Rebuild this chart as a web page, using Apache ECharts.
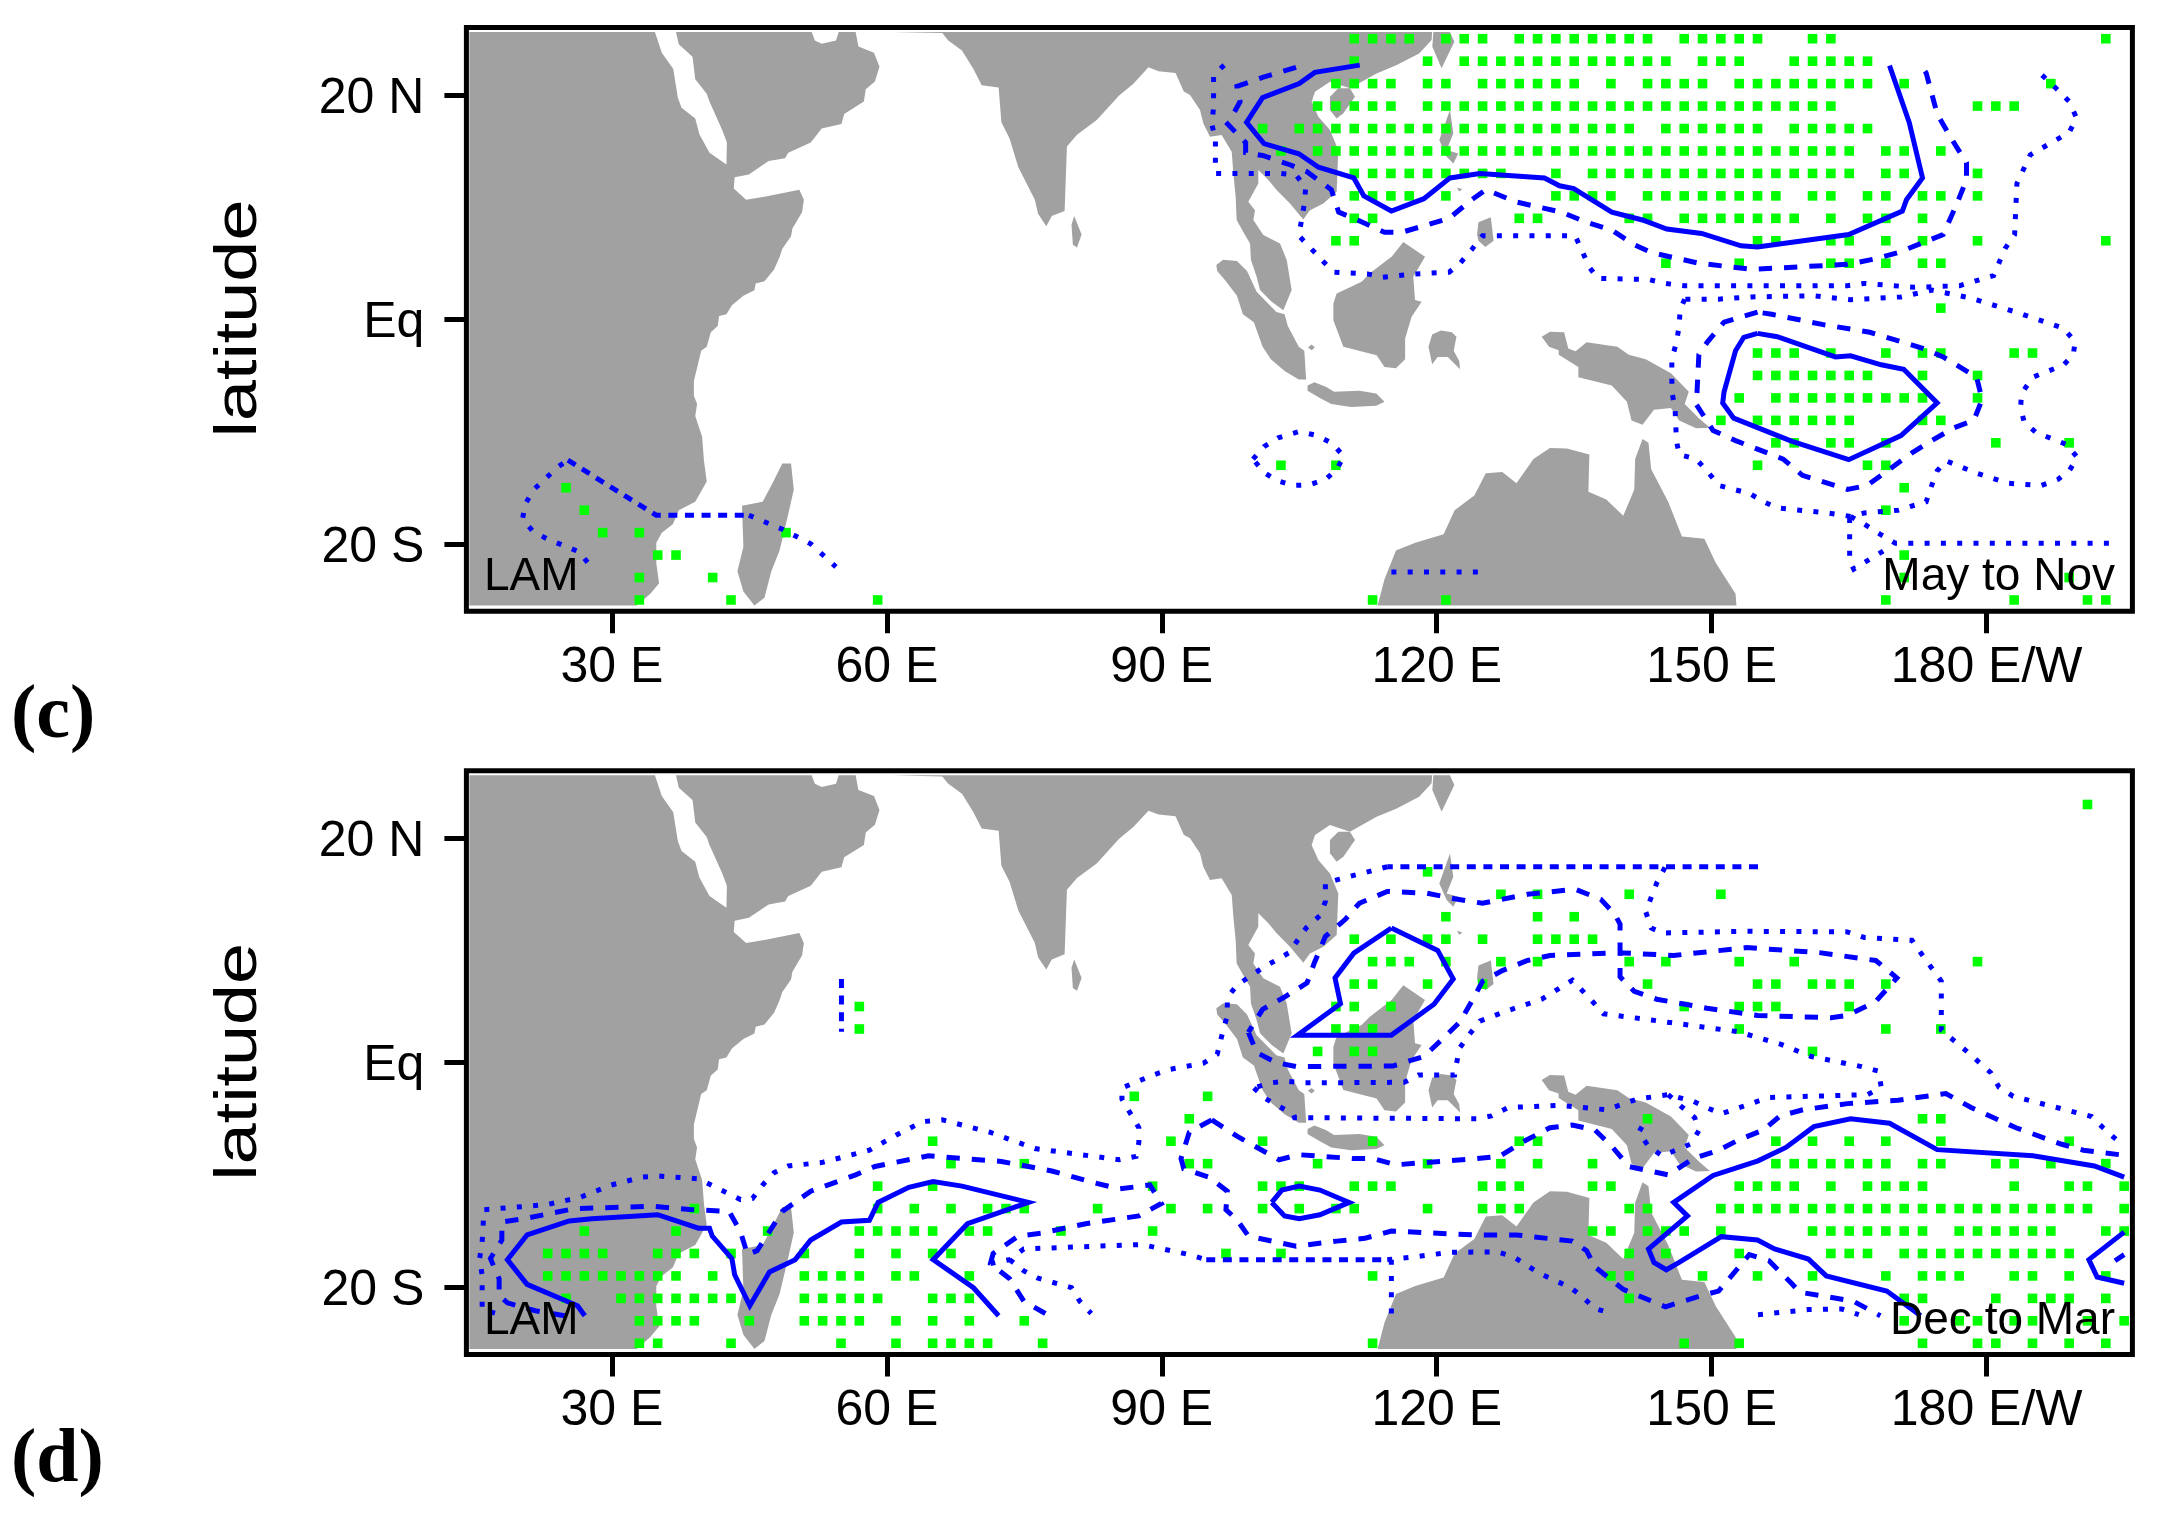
<!DOCTYPE html>
<html>
<head>
<meta charset="utf-8">
<title>LAM rainfall maps</title>
<script src="https://cdn.jsdelivr.net/npm/echarts@6/dist/echarts.min.js"></script>
<style>
html, body { margin: 0; padding: 0; background: #fff; }
#chart { width: 2160px; height: 1520px; }
</style>
</head>
<body>
<div id="chart"></div>
<script>
// tick labels
var lonTicks = [30, 60, 90, 120, 150, 180];
var lonLabels = ['30 E', '60 E', '90 E', '120 E', '150 E', '180 E/W'];
var latTicks = [-20, 0, 20];
var latLabels = ['20 S', 'Eq', '20 N'];

// land outlines, [lon, lat]
var landAfrica = [[14.45,-25.5],[14.45,25.6],[34.7,25.6],[35.45,23.75],[36.7,22.3],[37.2,19.75],[37.6,18.85],[39.1,17.9],[39.55,16.5],[40.65,14.85],[42.5,13.8],[42.55,15.75],[42.05,16.85],[40.65,19.4],[40.35,20.1],[39.1,21.4],[38.8,23.4],[37.3,24.5],[37,25.6],[51.8,25.6],[52.15,24.85],[52.9,24.55],[54.45,24.85],[54.75,25.6],[56.6,25.6],[56.9,24.3],[58.6,23.75],[59.2,22.5],[58.7,21.2],[57.7,20.5],[57.5,19.4],[55.35,18.3],[55.05,17.4],[52.9,17],[51.7,15.75],[49.25,14.85],[48.9,14.35],[47.1,14.1],[44.95,12.9],[43.4,12.65],[43.3,11.65],[44.65,10.65],[46.8,10.95],[50.45,11.55],[50.95,10.65],[50.75,9.55],[49.7,8.1],[49.55,7.4],[48.6,6.3],[48.3,5.55],[47.7,4.45],[46.65,3.4],[45.7,3.2],[45.55,2.6],[44.35,2.1],[43.1,1.25],[42.5,0.45],[41.7,0.3],[41.55,-0.6],[40.8,-1.15],[40.35,-2.45],[39.75,-2.8],[38.95,-5.5],[38.95,-6.8],[39.3,-7.55],[39.1,-8.6],[39.85,-10.45],[40.05,-12.6],[40.35,-14.45],[39.1,-16.25],[37.3,-17],[36.65,-18.25],[35.45,-19],[34.85,-19.9],[34.85,-21.7],[35.15,-23.5],[34.2,-24.45],[32.7,-25.5]];
var landAsia = [[60.55,25.6],[66.05,25.5],[66.7,24.85],[68.2,23.95],[69.45,22.3],[70.35,20.85],[72.2,20.65],[72.5,17.55],[73.4,16.1],[74.35,13.55],[76.15,10.65],[76.5,9.4],[77.4,8.3],[78,9.2],[79.4,9.65],[79.65,15.4],[80.75,16.45],[82.9,17.75],[85.35,19.95],[86.9,21],[88.55,22.45],[89.65,22.1],[91.5,21.95],[92.4,20.3],[93.08,19.98],[94.17,18.65],[94.53,17.46],[95.26,16.27],[96.53,16.42],[97.63,14.93],[97.81,13],[98.06,10.92],[98.17,8.84],[99.08,7.51],[99.63,6.76],[99.73,5.28],[100.35,3.8],[100.72,2.61],[101.99,1.57],[103.26,0.82],[104.17,2.61],[103.63,5.28],[102.9,6.76],[101.08,7.51],[99.99,8.84],[100.17,9.73],[99.44,10.48],[100.53,12.11],[100.53,13.3],[101.63,12.41],[102.53,11.52],[103.99,10.33],[105.44,8.9],[106.17,9.73],[107.63,10.33],[109.08,11.37],[109.26,15.08],[108.35,16.86],[107.08,18.05],[106.35,19.39],[106.72,20.28],[108.35,21.17],[110.53,20.58],[113.44,21.91],[115.63,22.65],[118.08,23.69],[119.44,24.88],[119.5,25.6]];
var landHainan = [[108.35,19.83],[109.26,20.58],[110.53,20.58],[111.08,19.83],[109.81,18.35],[109.08,17.9],[108.35,18.65]];
var landTaiwan = [[119.63,25.6],[121.44,25.6],[121.92,24.73],[120.53,22.36],[119.52,24.29]];
var landLuzon = [[121.44,18.64],[121.81,16.57],[121.08,15.08],[122.35,14.78],[121.81,13.89],[121.08,14.49],[120.28,15.97]];
var landPanay = [[122.2,11.75],[122.8,11.6],[122.45,11.4]];
var landMindanao = [[124.4,7.55],[124.55,8.65],[125.9,9.1],[126.2,7],[125.3,6.45],[124.55,7]];
var landBorneo = [[116.35,6.9],[118.72,5.58],[117.44,3.8],[117.63,1.72],[118.35,1.57],[117.26,0.23],[116.55,-1.7],[116.55,-3.55],[115.55,-4.35],[114.3,-4.25],[113.44,-3.19],[109.81,-2.44],[108.72,-0.07],[108.72,1.42],[109.08,2.31],[111.8,3.35],[112.7,4.1],[115.1,5.6]];
var landSumatra = [[95.95,4.85],[96.7,5.3],[98.2,5.2],[99.3,4.3],[100.35,2.45],[102.5,0.65],[103.4,0.45],[103.75,-0.6],[104.95,-2.45],[105.55,-2.8],[105.75,-5.35],[104.95,-5.35],[103.4,-4.6],[101.9,-3.55],[101,-2.45],[100.05,-0.25],[98.85,0.45],[98.2,2.1],[97,3.4],[96.05,4.3]];
var landBangka = [[105.95,-2.5],[106.35,-2.25],[106.7,-2.5],[106.35,-2.75]];
var landJava = [[105.9,-5.9],[106.65,-5.6],[107.9,-6],[108.8,-6.45],[111.55,-6.35],[113.4,-6.6],[114.3,-7.35],[113.4,-7.7],[110.65,-7.8],[108.5,-7.55],[107.25,-7],[105.9,-6.35]];
var landSulawesi = [[119.1,-2.45],[119.5,-1.35],[120.45,-1],[121.65,-1.15],[122.15,-1.55],[121.85,-2.8],[122.45,-3.7],[122.55,-4.45],[121.2,-3.35],[120.1,-3.35],[119.5,-4]];
var landGuinea = [[131.45,-1.55],[132.35,-1.1],[133.9,-1.15],[134.35,-2.6],[135.15,-2.85],[136.35,-2.05],[139.7,-2.45],[140.95,-3.15],[142.8,-3.55],[145.55,-4.8],[147.5,-6.45],[147.05,-7.55],[148.6,-8.8],[149.8,-9.65],[148.3,-9.7],[146.45,-9],[145.55,-7.9],[143.7,-8.05],[142.45,-9.4],[141.25,-9],[140.75,-7.35],[139.1,-5.9],[135.45,-5.15],[135.45,-4.25],[133.3,-3.15],[133.3,-2.75],[132.25,-2.45]];
var landAustralia = [[113.55,-25.5],[114.3,-23.15],[115.55,-20.6],[117.65,-19.9],[120.75,-19.15],[121.95,-17],[124.1,-15.7],[125.35,-13.7],[127.15,-13.6],[128.7,-14.6],[130.55,-12.45],[132.35,-11.45],[134.2,-11.5],[136.65,-12.05],[136.55,-15.35],[138.5,-16.05],[140.35,-17.5],[141.55,-15.15],[141.65,-12.45],[142.45,-10.65],[143.1,-11],[143.4,-13.35],[145.25,-16.25],[146.75,-19.35],[149.2,-19.55],[150.45,-21.7],[152.6,-24.45],[152.7,-25.5]];
var landMadagascar = [[48.6,-12.85],[49.55,-12.85],[49.85,-15.15],[49.25,-17.35],[48.3,-20.6],[47.4,-22.45],[46.65,-24.8],[45.55,-25.5],[44.35,-24.25],[43.7,-22.45],[44.35,-20.25],[44.2,-16.6],[46.45,-16.25],[47.4,-14.8]];
var landSriLanka = [[80.45,9.2],[81.25,7.55],[80.75,6.4],[80.3,6.65],[80.15,8.45]];
var landPolys = [landAfrica, landAsia, landHainan, landTaiwan, landLuzon, landPanay, landMindanao, landBorneo, landSumatra, landBangka, landJava, landSulawesi, landGuinea, landAustralia, landMadagascar, landSriLanka];

// significant cells, [lat, [lons]]
var cCells = [
  [25, [111,113,115,117,121,123,125,129,131,133,135,137,139,141,143,147,149,151,153,155,161,163,193]],
  [23, [111,119,123,125,127,129,131,133,135,137,139,141,143,145,149,151,153,159,161,163,165,167]],
  [21, [109,111,113,115,119,121,125,127,129,131,133,135,139,143,145,147,149,153,155,157,159,161,163,165,167,171,187]],
  [19, [107,109,111,113,115,119,121,123,125,127,129,131,133,135,137,139,141,143,145,147,149,151,153,155,157,159,161,163,179,181,183]],
  [17, [101,105,107,109,111,113,115,117,119,121,123,125,127,129,131,133,135,137,139,141,145,147,149,151,153,155,159,161,163,165,167]],
  [15, [103,107,109,111,113,115,117,119,121,123,125,127,129,131,133,135,137,139,141,143,145,147,149,151,153,155,157,159,161,163,165,169,171,175]],
  [13, [111,113,115,117,119,121,123,125,127,133,137,139,141,143,145,147,149,151,153,155,157,159,161,163,165,169,171,179]],
  [11, [111,113,115,117,121,133,135,137,139,143,145,147,149,151,153,155,157,161,163,167,169,173,175,179]],
  [9, [111,113,129,131,141,143,147,149,151,153,155,157,159,163,167,169,173]],
  [7, [109,111,155,157,163,165,169,173,179,193]],
  [5, [145,153,163,165,169,173,175]],
  [1, [175]],
  [-3, [155,157,159,163,169,173,175,183,185]],
  [-5, [155,157,159,161,163,165,167,173,179]],
  [-7, [153,157,159,161,163,165,167,169,171,173,179]],
  [-9, [151,155,157,159,161,163,165,173,175]],
  [-11, [157,159,163,165,169,181,189]],
  [-13, [103,109,155,167,169]],
  [-15, [25,171]],
  [-17, [27,169]],
  [-19, [29,33,49]],
  [-21, [35,37,171]],
  [-23, [33,41,171,189]],
  [-25, [33,43,59,113,121,169,183,191,193]]
];
var dCells = [
  [23, [191]],
  [17, [119]],
  [15, [127,131,141,151]],
  [13, [121,131,135]],
  [11, [111,115,119,121,125,131,133,135,137]],
  [9, [113,115,117,121,127,131,141,145,153,159,179]],
  [7, [111,113,119,125,143,155,157,161,163,165,169]],
  [5, [57,109,111,115,147,153,155,157,165]],
  [3, [57,109,111,113,153,169,175]],
  [1, [107,111,113,161]],
  [-3, [87,95]],
  [-5, [93,143,173,175]],
  [-7, [65,91,101,113,129,131,157,161,165,169,175,189]],
  [-9, [67,75,93,95,107,119,127,131,137,157,159,161,163,165,167,169,173,175,181,183,187,193]],
  [-11, [59,65,89,101,103,105,111,113,115,125,127,129,137,139,153,155,157,159,163,167,169,171,173,183,189,191,195]],
  [-13, [39,59,63,67,71,73,75,83,91,95,101,105,109,111,119,125,127,129,141,143,151,153,155,157,159,161,163,165,167,169,171,173,175,177,179,181,183,185,187,189,191,195]],
  [-15, [27,37,47,57,59,61,63,65,69,71,79,89,137,139,143,145,147,151,161,163,165,167,169,171,173,177,179,181,183,185,187,193,195]],
  [-17, [23,25,27,29,35,37,39,43,51,57,61,65,67,97,103,141,145,153,163,165,167,171,173,175,177,179,181,183,185,187,189]],
  [-19, [23,25,27,29,31,33,35,37,41,51,53,55,57,61,63,69,113,139,141,149,155,161,169,173,175,177,183,185,189,193]],
  [-21, [25,31,33,35,37,39,41,43,51,53,55,57,59,65,67,69,141,171,173,181,185,187,189,193]],
  [-23, [33,35,37,39,45,51,53,55,57,61,65,69,75,171,177,179,183,185,191,195]],
  [-25, [33,35,43,55,61,65,67,69,71,77,113,147,153,173,179,181,185,189,193]]
];

// contours, panel c (May to Nov)
var cSolidNorth = [[111.6,22.65],[106.7,22],[105,21],[101,19.75],[99.25,17.55],[101.15,15.65],[104.95,14.75],[107.1,13.55],[110.95,12.6],[112.05,11],[115.05,9.65],[118.6,10.75],[121.45,12.6],[124.7,13],[131.75,12.6],[133.4,11.9],[134.95,11.65],[139.1,9.55],[142.45,8.85],[145.1,8.05],[148.9,7.65],[153.2,6.55],[155,6.45],[164.95,7.55],[170.8,9.65],[171.25,10.65],[173,12.6],[171.55,17.55],[169.4,22.6]];
var cSolidEast = [[155,-1.25],[153.5,-1.6],[152.6,-2.8],[151.35,-6.45],[151.2,-7.45],[152.4,-8.8],[158.7,-10.85],[164.95,-12.5],[170.65,-10.35],[174.6,-7.45],[170.95,-4.45],[168.5,-4.05],[165.15,-3.25],[163.5,-3.35],[157.15,-1.55],[155,-1.25]];
var cDashNorthA = [[104.65,22.45],[101,21.55],[98.2,20.75],[98.55,19.4],[97.9,18.45]];
var cDashNorthB = [[97,17.55],[99.15,15.75],[99.15,14.85],[101,14.6],[104.05,13.75],[105.85,13.15],[108.5,11.55],[109.3,9.55],[110.95,9],[114.3,7.75],[116.15,7.75],[121.35,9],[123.8,10.65],[125.35,11.55],[128.7,10.45],[133.6,9.55],[136.35,8.65],[139.1,7.95],[141.55,6.65],[143.4,5.95],[148.6,5],[154.4,4.45],[164.8,4.9],[167.9,5.4],[170.35,5.95],[173.4,6.95],[175.25,7.55],[176.75,10.3],[177.8,12.45],[177.8,13.95],[176.15,16.1],[174.6,18.3],[173.4,21.95],[172.8,22.65]];
var cDashEast = [[155,0.65],[151.35,-0.25],[149.5,-2.05],[148.6,-3.15],[148.4,-6.45],[148.3,-7.55],[150.15,-9.9],[152.6,-10.8],[157.8,-12.45],[159.9,-13.9],[164.8,-15.15],[166.95,-14.8],[169.4,-13.35],[171.85,-11.9],[174,-10.8],[176.45,-9.65],[178.6,-9],[179.5,-7.15],[178.9,-5.15],[175.25,-3.35],[173.1,-2.6],[167.25,-1.15],[162.05,-0.45],[156.55,0.45],[155,0.65]];
var cDotNorth = [[96.8,22.65],[95.65,21.75],[95.65,18.85],[95.45,17.4],[95.85,16.1],[95.85,13],[102.95,13],[104.65,12.85],[105.7,11.75],[105.55,10.3],[105.25,8.85],[104.95,7.45],[106.3,6.3],[107.55,5.2],[108.8,4.2],[112.45,4.05],[114,3.75],[117.65,4.05],[121.35,4.2],[122.55,5],[123.8,6.2],[125,7.45],[135.1,7.45],[135.85,6.1],[136.65,4.65],[137.55,3.65],[143.1,3.55],[144.9,3.2],[147.05,3],[164.8,3],[166.65,3.2],[172.15,2.85],[177.05,3],[180.75,3.9],[182,6.3],[183.05,7.55],[183.3,12.1],[184.75,14.65],[189,16.65],[189.8,17.95],[189,19.4],[187.8,20.4],[185.15,22.45]];
var cDotEast = [[147.05,1.8],[146.55,0.85],[146.45,-0.6],[146.15,-2.05],[145.65,-3.55],[145.65,-6.45],[146,-7.9],[146.15,-10.8],[146.45,-12.05],[148.3,-12.45],[149.5,-13.5],[150.75,-14.8],[154.1,-15.5],[155.65,-16.25],[157.15,-16.8],[162.7,-17.25],[165.15,-17.55],[166.65,-17.25],[170.35,-17],[173.4,-16.25],[174,-14.8],[174.6,-13.5],[175.55,-12.6],[178.9,-13.7],[182.3,-14.6],[185.95,-14.8],[187.8,-14.25],[189,-13.5],[189.9,-12.3],[188.7,-11.15],[185.35,-10.05],[184.1,-9.15],[183.7,-7.9],[183.8,-6.6],[185.05,-5.15],[188.4,-4.05],[189.45,-3.15],[189.65,-2],[188.4,-0.8],[183.2,0.65],[178,1.95],[174,2.6],[170.65,2],[165.15,1.75],[161.15,2.1],[154.4,2],[150.75,1.8],[147.05,1.8]];
var cDotTailA = [[165.15,-17.55],[166.65,-18.25],[168.4,-19.15],[170.05,-19.95],[193.9,-19.95]];
var cDotTailB = [[165.05,-17.7],[165.05,-19.9],[165.05,-21.5],[165.5,-22.25],[167,-21.5],[168.8,-20.6]];
var cDotLoop = [[99.95,-12.45],[101.15,-11.35],[102.7,-10.55],[104.95,-10],[106.95,-10.35],[108.6,-11.05],[109.85,-12.2],[109.1,-13.35],[107.9,-14.25],[106.05,-14.75],[104.3,-14.8],[102.5,-14.35],[101.1,-13.6],[99.95,-12.45]];
var cDotSouthWest = [[27.35,-21.65],[26.4,-20.7],[22.9,-19.55],[21.35,-18.85],[20.25,-17.8],[20.55,-16.45],[21.5,-15.15],[24.1,-13.15],[25.2,-12.55]];
var cDotMozambique = [[44.95,-17.45],[48.6,-18.7],[51.7,-20],[54.45,-22.05]];
var cDotAustralia = [[115.05,-22.5],[124.7,-22.5]];
// dotted contours drawn twice in the source, so they read as short dashes
var cDoubleWest = [[25.2,-12.55],[34.85,-17.45],[44.95,-17.45]];

// contours, panel d (Dec to Mar)
var dSolidWest = [[27.05,-22.55],[26.25,-21.65],[20.75,-19.75],[18.6,-17.55],[20.75,-15.35],[25.35,-14.1],[27.8,-13.9],[35,-13.55],[39.45,-14.75],[40.65,-14.75],[40.95,-15.45],[43.1,-17.45],[43.4,-18.9],[45.05,-21.65],[47.2,-18.65],[50,-17.55],[51.7,-15.8],[55.05,-14.2],[58.1,-14.05],[59.05,-12.45],[62.4,-11.1],[65.05,-10.6],[68.2,-11],[75.45,-12.45],[68.8,-14.35],[65.05,-17.55],[69.45,-20.05],[72.2,-22.55]];
var dSolidLoop = [[102,-12.45],[103.1,-11.35],[105,-11],[107.25,-11.35],[110.45,-12.45],[107.25,-13.55],[105,-13.9],[103.4,-13.65],[102,-12.45]];
var dSolidBorneo = [[115.05,12],[110.95,9.75],[108.9,7.55],[109.5,5.25],[104.8,2.45],[115.05,2.45],[119.7,5.2],[121.8,7.45],[120.1,10],[115.05,12]];
var dSolidEast = [[195,-10.2],[191.75,-9.2],[185.05,-8.3],[174.6,-7.75],[169.4,-5.4],[165.15,-5],[161.15,-5.7],[158.1,-7.55],[155.05,-8.75],[150.15,-10.05],[145.85,-12.45],[147.35,-13.65],[143.1,-16.6],[143.7,-17.8],[145.05,-18.45],[146.45,-17.8],[151.05,-15.5],[155,-15.8],[156.85,-16.6],[160.55,-17.5],[162.5,-19],[169.1,-20.35],[172.8,-22.55]];
var dSolidRight = [[195,-15.1],[191.15,-17.55],[192.05,-19.1],[195,-19.65]];
var dDashWest = [[24.85,-22.55],[21.65,-22.1],[18.6,-21.4],[17.7,-20.75],[17.7,-19.25],[16.75,-17.45],[18,-15.8],[18,-14.2],[20.45,-13.9],[25.95,-13],[34.55,-12.8],[38.8,-13.1],[42.8,-13.25],[44.05,-15.1],[44.8,-17.1],[45.85,-16.75],[48.6,-13.25],[51.7,-11.45],[56.6,-10],[58.7,-9.25],[64.55,-8.3],[72.5,-8.8],[78,-9.65],[82.9,-10.75],[85.35,-11.25],[88.7,-10.9],[89.95,-12.55],[87.5,-13.65],[81.7,-14.35],[76.8,-15.2],[74.35,-15.45],[71.6,-17],[71.3,-17.9],[73.4,-19.25],[74.95,-21.25],[77.3,-22.35]];
var dDashSouth = [[95.45,-5.1],[93,-6.2],[92.1,-8.55],[92.4,-9.45],[95.15,-10.2],[97.15,-11.45],[97,-13.1],[98.2,-14],[99.45,-15.45],[104.65,-16.35],[109.1,-15.9],[112.15,-15.65],[115.05,-15],[124.1,-15.35],[128.7,-15.35],[134.8,-15.9],[136.35,-16.75],[137.25,-18.2],[140.35,-20.2],[144.95,-21.75],[148.9,-20.75],[150.75,-20.35],[154.1,-17.1],[156.25,-17.65],[158.7,-19.65],[159.6,-20.45],[165.45,-21.25],[168.4,-22.55]];
var dDashMiddle = [[95.45,-5.1],[98.2,-6.55],[102.8,-8.65],[104.95,-8.2],[110.95,-8.55],[113.1,-8.55],[115.55,-9.1],[124.4,-8.55],[126.85,-8.35],[129.3,-7.1],[132.35,-5.8],[134.8,-5.55],[137.25,-6],[139.1,-7.45],[140.95,-9.25],[145.25,-10],[148,-8.55],[150.75,-7.8],[152.9,-6.9],[155.65,-6],[157.45,-4.75],[159.95,-4.2],[164.8,-3.65],[170.35,-3.35],[175.55,-2.75],[178.3,-4],[183.2,-5.8],[188.1,-7.25],[190.55,-7.8],[194.5,-8.2]];
var dDashNorth = [[99.45,2.7],[100.35,0.9],[102.5,0],[104.7,-0.35],[115.2,-0.3],[118.6,0.55],[120.75,2.2],[122.55,3.65],[123.8,5.45],[125,7.25],[127.15,8.2],[129.9,9.1],[132.35,9.55],[139.7,9.8],[145.85,9.55],[153.8,10.25],[161.75,9.8],[167.9,9.1],[170.2,7.55],[167.9,5.45],[164.8,4.2],[163,4],[155,4.2],[149.5,4.85],[144,5.65],[141.55,6.35],[140,7.65],[140,11.1],[140,12.35],[139.4,13.25],[137.9,14.55],[135.1,15.45],[129.9,15],[125,14.2],[121.95,14.6],[118.9,15.1],[114.6,15.25],[111.55,14.2],[110,12.75],[107.85,11.25],[106.65,8.9],[105.85,7.1],[103.3,5.8],[101,4.75],[99.45,2.7]];
var dDashRight = [[195,-17.1],[194,-17.65]];
var dDotTop = [[114.6,17.45],[109.4,16.35],[107.85,16],[107.85,14.35],[107.25,13.1],[105.75,12],[103.9,9.8],[101,8.45],[98.2,6.9],[97.15,5.8],[97.15,4.2],[96.7,2.9],[96.05,0.75],[94.55,-0.05],[90.85,-0.6],[89.05,-1.1],[85.65,-2.25],[85.65,-3.25],[87.5,-5.8],[87.5,-7.1],[87.2,-8.35],[85.35,-8.65],[76.15,-7.65],[71.25,-6.2],[66.05,-5.1],[63.9,-5.25],[61.05,-6.45],[58.1,-7.8],[52.9,-8.9],[49.25,-9.2],[47.7,-9.8],[46.45,-10.9],[45.35,-12.1],[44.05,-12.2],[42.2,-11.45],[39.45,-10.35],[35.15,-10.1],[33.3,-10.2],[29.95,-10.9],[26.55,-12],[22.9,-12.65],[16.05,-13.1],[15.85,-16],[15.55,-17.55],[15.85,-18.9],[15.85,-20.35],[15.85,-22],[17.4,-22.35]];
var dDotEast = [[144.9,17.4],[144,16],[142.8,13.45],[143.4,12],[144.6,11.55],[153.8,11.7],[164.8,11.65],[166.65,11.15],[171.85,10.9],[173.1,9.45],[175.05,7.25],[175.05,2.9],[177.7,1.1],[180.45,-0.9],[181.35,-2.2],[182.9,-3],[191.45,-4.8],[192.7,-5.8],[194.2,-6.9]];
var dDotMiddle = [[100.05,-2.25],[101.3,-3.2],[102.8,-3.9],[104.35,-4.55],[104.5,-4.9],[124.4,-5],[125.95,-4.75],[127.8,-4],[133.3,-3.8],[138.5,-4.2],[141.85,-3.25],[145.25,-2.85],[148,-3.45],[149.4,-4],[151.05,-4.55],[156.25,-3.1],[167,-2.85],[168.5,-2.2],[168.2,-0.75],[166.35,-0.35],[160.85,0.55],[157.5,1.65],[152.9,2.75],[143.4,3.8],[138.2,4.35],[137,5.45],[134.8,7.35],[131.45,5.65],[127.8,4.65],[124.7,3.7],[123.5,2.45],[122.45,1.25],[121.95,-1.1],[118,-1.1],[116.45,-1.75],[105.45,-1.8],[103.6,-1.65],[101.9,-1.8],[100.05,-2.25]];
var dDotGuinea = [[145.25,-2.85],[146.75,-3.95],[148.15,-4.9],[148.6,-6.05],[147.7,-7.25],[144.6,-8.3],[143.1,-7.45],[142.05,-6.2],[142.8,-5.1]];
var dDotSouthWest = [[71.3,-17.9],[73.4,-17.55],[74.95,-16.6],[87.8,-16.2],[93,-17.1],[94.85,-17.55]];
var dDotSouthEast = [[114.6,-17.55],[117.65,-17.3],[121.35,-16.9],[126.55,-16.85],[128.4,-17.3],[131.15,-18.75],[134.5,-20],[135.75,-20.75],[137.25,-21.9],[138.9,-22.3]];
var dDotBranch = [[115.05,-17.55],[115.05,-22.35]];
var dDotTail = [[73.4,-17.55],[74.95,-18.55],[76.5,-19.2],[80.15,-20.05],[81.05,-21.25],[82.3,-22.35]];
var dDotCorner = [[155.05,-22.45],[160.55,-22],[164.2,-21.95],[166.05,-22.45]];
var dDoubleTop = [[155.05,17.45],[114.6,17.45]];
var dDoubleSouth = [[94.85,-17.55],[114.6,-17.55]];
var dDoubleIndian = [[55.05,7.45],[55.05,2.75]];

var panels = [
  { top: 27.5, height: 583.7, cells: cCells,
    solid: [cSolidNorth, cSolidEast],
    dash: [cDashNorthA, cDashNorthB, cDashEast],
    dot: [cDotNorth, cDotEast, cDotTailA, cDotTailB, cDotLoop, cDotSouthWest, cDotMozambique, cDotAustralia],
    dbl: [cDoubleWest] },
  { top: 770.8, height: 583.7, cells: dCells,
    solid: [dSolidWest, dSolidLoop, dSolidBorneo, dSolidEast, dSolidRight],
    dash: [dDashWest, dDashSouth, dDashMiddle, dDashNorth, dDashRight],
    dot: [dDotTop, dDotEast, dDotMiddle, dDotGuinea, dDotSouthWest, dDotSouthEast, dDotBranch, dDotTail, dDotCorner],
    dbl: [dDoubleTop, dDoubleSouth, dDoubleIndian] }
];

var BLUE = '#0000ff', GREEN = '#00ff00', LAND = '#a1a1a1';
var grids = [], xAxes = [], yAxes = [], series = [];

function renderLand(params, api) {
  var poly = landPolys[api.value(0)];
  return {
    type: 'polygon',
    shape: { points: poly.map(function (p) { return api.coord(p); }) },
    style: { fill: LAND, stroke: null }
  };
}

panels.forEach(function (p, idx) {
  grids.push({ left: 466.4, width: 1666, top: p.top, height: p.height, show: true,
    borderColor: '#000', borderWidth: 5, backgroundColor: '#fff', z: 0 });
  xAxes.push({ type: 'value', gridIndex: idx, min: 14.13, max: 195.9, splitLine: { show: false },
    axisLine: { show: false, onZero: false },
    axisTick: { show: true, length: 22, customValues: lonTicks, lineStyle: { color: '#000', width: 5 } },
    axisLabel: { margin: 32, fontSize: 50, fontFamily: 'Liberation Sans', color: '#000', hideOverlap: false, customValues: lonTicks,
      formatter: function (v) { return lonLabels[lonTicks.indexOf(v)]; } }
  });
  yAxes.push({ type: 'value', gridIndex: idx, min: -26, max: 26, splitLine: { show: false },
    axisLine: { show: false, onZero: false },
    axisTick: { show: true, length: 22, customValues: latTicks, lineStyle: { color: '#000', width: 5 } },
    axisLabel: { margin: 42, customValues: latTicks,
      // rich box so the caps sit on the tick like in the source
      rich: { t: { fontSize: 50, fontFamily: 'Liberation Sans', color: '#000', padding: [8, 0, 0, 0] } },
      formatter: function (v) { return '{t|' + latLabels[latTicks.indexOf(v)] + '}'; } }
  });

  series.push({ type: 'custom', xAxisIndex: idx, yAxisIndex: idx, silent: true, z: 1, clip: true,
    renderItem: renderLand, data: landPolys.map(function (poly, i) { return [i]; }) });

  var pts = [];
  p.cells.forEach(function (row) {
    row[1].forEach(function (lon) { pts.push([lon, row[0]]); });
  });
  series.push({ type: 'scatter', xAxisIndex: idx, yAxisIndex: idx, silent: true, z: 2,
    symbol: 'rect', symbolSize: [9.6, 9.6], itemStyle: { color: GREEN, opacity: 1 }, data: pts });

  function addLines(list, lineType, width) {
    list.forEach(function (seg) {
      series.push({ type: 'line', xAxisIndex: idx, yAxisIndex: idx, silent: true, z: 3, symbol: 'none',
        lineStyle: { color: BLUE, width: width, type: lineType, cap: 'butt', join: 'miter' }, data: seg });
    });
  }
  addLines(p.solid, 'solid', 5);
  addLines(p.dash, [13.3, 12], 5);
  addLines(p.dot, [5, 11.3], 5);
  addLines(p.dbl, [9, 7.6], 5);
});

function label(txt, x, y, align, font) {
  return { type: 'text', x: x, y: y, z: 20, silent: true,
    style: { text: txt, fill: '#000', font: font, align: align, verticalAlign: 'middle' } };
}
// the y axis title is stretched along its length in the source figure
function yTitle(y) {
  return { type: 'text', x: 240, y: y, z: 20, silent: true, rotation: Math.PI / 2, scaleX: 1.25,
    style: { text: 'latitude', fill: '#000', font: '59px "Liberation Sans"', align: 'center', verticalAlign: 'middle' } };
}
var smallFont = '46px "Liberation Sans"';
var tagFont = 'bold 76px "Liberation Serif"';

var chart = echarts.init(document.getElementById('chart'));
chart.setOption({
  animation: false,
  backgroundColor: '#fff',
  grid: grids,
  xAxis: xAxes,
  yAxis: yAxes,
  series: series,
  graphic: [
    yTitle(318.5),
    yTitle(1061.8),
    label('LAM', 484, 577, 'left', smallFont),
    label('May to Nov', 2115, 577, 'right', smallFont),
    label('LAM', 484, 1321, 'left', smallFont),
    label('Dec to Mar', 2115, 1321, 'right', smallFont),
    label('(c)', 11, 717, 'left', tagFont),
    label('(d)', 11, 1461, 'left', tagFont)
  ]
});
</script>
</body>
</html>
